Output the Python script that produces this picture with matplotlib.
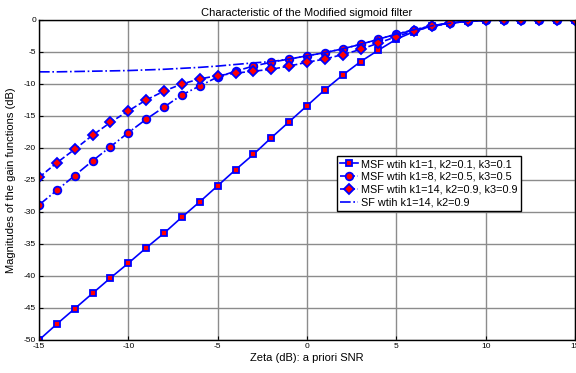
import matplotlib
matplotlib.use("Agg")
import matplotlib.pyplot as plt

plt.rcParams['font.family'] = ['Liberation Sans', 'DejaVu Sans']
plt.rcParams['axes.unicode_minus'] = False

zeta = list(range(-15, 16))

msf1 = [-50.0, -47.5, -45.1, -42.7, -40.3, -38.0, -35.6, -33.3, -30.8, -28.4,
        -25.9, -23.4, -21.0, -18.4, -15.9, -13.4, -10.9, -8.6, -6.5, -4.7,
        -3.0, -1.8, -0.9, -0.45, -0.2, -0.05, 0.0, 0.0, 0.0, 0.0, 0.0]
msf2 = [-28.9, -26.6, -24.3, -22.0, -19.8, -17.6, -15.5, -13.6, -11.7, -10.3,
        -8.9, -8.0, -7.2, -6.6, -6.1, -5.6, -5.1, -4.5, -3.8, -3.0,
        -2.2, -1.6, -0.9, -0.5, -0.2, -0.05, 0.0, 0.0, 0.0, 0.0, 0.0]
msf3 = [-24.6, -22.3, -20.2, -18.0, -16.0, -14.2, -12.5, -11.1, -10.0, -9.2,
        -8.7, -8.3, -8.0, -7.7, -7.2, -6.6, -6.1, -5.4, -4.6, -3.6,
        -2.6, -1.7, -1.0, -0.5, -0.2, -0.05, 0.0, 0.0, 0.0, 0.0, 0.0]
sf = [-8.1, -8.1, -8.05, -8.0, -7.95, -7.9, -7.8, -7.7, -7.55, -7.4,
      -7.2, -6.95, -6.7, -6.5, -6.1, -5.6, -5.1, -4.5, -3.8, -3.0,
      -2.2, -1.5, -0.9, -0.5, -0.2, -0.08, 0.0, 0.0, 0.0, 0.0, 0.0]

labels = ['MSF wtih k1=1, k2=0.1, k3=0.1',
          'MSF wtih k1=8, k2=0.5, k3=0.5',
          'MSF wtih k1=14, k2=0.9, k3=0.9',
          'SF wtih k1=14, k2=0.9']

fig = plt.figure(figsize=(5.76, 3.73), dpi=100)
ax = fig.add_axes([39/576, 1-340/373, 536/576, 320/373])

blue = '#0000ff'
mk = dict(markerfacecolor='red', markeredgecolor=blue, markeredgewidth=1.3)
ax.plot(zeta, msf1, '-', color=blue, lw=1.2, marker='s', markersize=5, label=labels[0], **mk)
ax.plot(zeta, msf2, '-.', color=blue, lw=1.2, marker='o', markersize=5.5, label=labels[1], **mk)
ax.plot(zeta, msf3, '--', color=blue, lw=1.2, marker='D', markersize=4.6, label=labels[2], **mk)
ax.plot(zeta, sf, '-.', color=blue, lw=1.2, label=labels[3])

ax.set_xlim(-15, 15)
ax.set_ylim(-50, 0)
ax.set_xticks(range(-15, 16, 5))
ax.set_yticks(range(-50, 1, 5))
ax.grid(True, color='#8c8c8c', lw=1.0)
ax.set_axisbelow(True)
ax.tick_params(direction='in', labelsize=6, length=3, width=0.8, pad=2)
for s in ax.spines.values():
    s.set_linewidth(1.0)
    s.set_color('black')

ax.set_title('Characteristic of the Modified sigmoid filter', fontsize=8, pad=3)
ax.set_xlabel('Zeta (dB): a priori SNR', fontsize=8, labelpad=2)
ax.set_ylabel('Magnitudes of the gain functions (dB)', fontsize=8, labelpad=6)

leg = ax.legend(loc='upper left', bbox_to_anchor=(0.556, 0.575), fontsize=7.8,
                frameon=True, fancybox=False, edgecolor='black', framealpha=1,
                handlelength=1.6, handletextpad=0.3, borderpad=0.3, labelspacing=0.25,
                borderaxespad=0)
leg.get_frame().set_linewidth(1.0)

fig.savefig('out.png', dpi=100)
